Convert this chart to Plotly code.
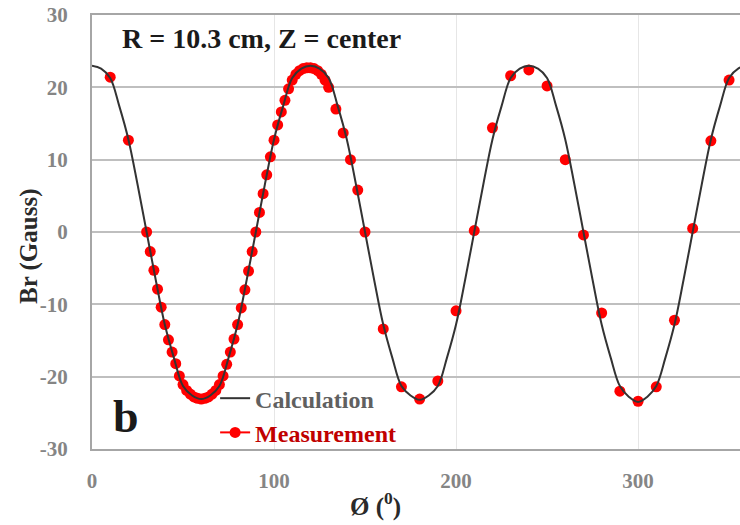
import plotly.graph_objects as go

# Calculation curve (read every 5 degrees)
calc_phi = list(range(0, 365, 5))
calc_br = [
    23.0, 22.6, 21.3, 17.4, 12.8, 6.6, 0.0, -6.6, -12.8, -17.4, -21.3, -22.6,
    -23.1, -22.6, -21.3, -17.4, -12.8, -6.6, 0.0, 6.6, 12.8, 17.4, 21.3, 22.6,
    23.0, 22.6, 21.3, 17.4, 12.8, 6.6, 0.0, -6.6, -12.8, -17.4, -21.3, -22.6,
    -23.2, -22.6, -21.3, -17.4, -12.8, -6.6, 0.0, 6.6, 12.8, 17.4, 21.3, 22.6,
    23.0, 22.6, 21.3, 17.4, 12.8, 6.6, 0.0, -6.6, -12.8, -17.4, -21.3, -22.8,
    -23.5, -22.8, -21.3, -17.4, -12.8, -6.6, 0.0, 6.6, 12.8, 17.4, 21.3, 22.6,
    23.0,
]

# Measurement points
meas_phi = [10, 20] + list(range(30, 132, 2)) + [134, 138, 142, 146, 150] + list(range(160, 360, 10))
meas_br = [
    21.4, 12.7,
    0.0, -2.7, -5.3, -7.9, -10.4, -12.8, -14.9, -16.6, -18.2, -19.9,
    -21.1, -21.9, -22.4, -22.8, -23.0, -23.1, -23.0, -22.8, -22.4, -21.9,
    -21.1, -19.9, -18.3, -16.6, -14.8, -12.8, -10.5, -8.0, -5.4, -2.7,
    0.0, 2.7, 5.3, 7.9, 10.4, 12.7, 14.8, 16.6, 18.2, 19.8,
    21.0, 21.8, 22.3, 22.6, 22.7, 22.7, 22.6, 22.3, 21.8, 21.0,
    20.0,
    17.0, 13.7, 10.0, 5.8, 0.0,
    -13.4, -21.4, -23.1, -20.6, -10.9, 0.2, 14.4, 21.6, 22.4, 20.2,
    10.0, -0.4, -11.2, -22.0, -23.4, -21.4, -12.2, 0.5, 12.6, 21.0,
]

y_ticks = [-30, -20, -10, 0, 10, 20, 30]
y_tick_labels = ["-30", "-20", "-10", "0", "10", "20", "30"]
x_ticks = [0, 100, 200, 300]

SERIF = "Liberation Serif"
RED = "#ff0000"
LEG_RED = "#c00000"
TICK_GRAY = "#858585"

fig = go.Figure()

fig.add_trace(go.Scatter(
    x=meas_phi, y=meas_br, mode="markers",
    marker=dict(color=RED, size=11),
    showlegend=False, hoverinfo="skip",
))
fig.add_trace(go.Scatter(
    x=calc_phi, y=calc_br, mode="lines",
    line=dict(color="#333333", width=2, shape="spline", smoothing=1.0),
    name="<span style='color:#606060'>Calculation</span>",
    legendrank=1,
))
fig.add_trace(go.Scatter(
    x=[None], y=[None], mode="lines+markers",
    line=dict(color=RED, width=2), marker=dict(color=RED, size=11),
    name="<span style='color:%s'>Measurement</span>" % LEG_RED,
    legendrank=2,
))

fig.update_layout(
    width=740, height=525,
    margin=dict(l=92, r=0, t=15, b=76),
    paper_bgcolor="white", plot_bgcolor="white",
    font=dict(family=SERIF),
    showlegend=True,
    legend=dict(
        x=0.19, y=0.168, xanchor="left", yanchor="top",
        font=dict(family=SERIF, size=24, color="#606060", weight="bold"),
        bgcolor="rgba(0,0,0,0)", borderwidth=0,
    ),
    xaxis=dict(
        range=[0, 356], tickvals=x_ticks,
        showgrid=True, gridcolor="#e6e6e6", gridwidth=1,
        zeroline=False,
        showline=True, mirror=True, linecolor="#a6a6a6", linewidth=2,
        tickfont=dict(family=SERIF, size=21, color=TICK_GRAY, weight="bold"),
        ticklabelstandoff=12,
    ),
    yaxis=dict(
        range=[-30, 30], tickvals=y_ticks, ticktext=y_tick_labels,
        showgrid=True, gridcolor="#bfbfbf", gridwidth=2,
        zeroline=False,
        showline=True, linecolor="#a6a6a6", linewidth=2,
        tickfont=dict(family=SERIF, size=21, color=TICK_GRAY, weight="bold"),
        ticklabelstandoff=18,
    ),
    annotations=[
        dict(text="R = 10.3 cm, Z = center", x=0.043, y=0.947, xref="paper", yref="paper",
             xanchor="left", yanchor="middle", showarrow=False,
             font=dict(family=SERIF, size=28, color="#1a1a1a", weight="bold")),
        dict(text="b", x=0.052, y=0.076, xref="paper", yref="paper",
             xanchor="center", yanchor="middle", showarrow=False,
             font=dict(family=SERIF, size=46, color="#1a1a1a", weight="bold")),
        dict(text="Br (Gauss)", x=-0.097, y=0.468, xref="paper", yref="paper",
             xanchor="center", yanchor="middle", showarrow=False, textangle=-90,
             font=dict(family=SERIF, size=25, color="#2a2a2a", weight="bold")),
        dict(text="Ø (<sup>0</sup>)", x=0.438, y=-0.129, xref="paper", yref="paper",
             xanchor="center", yanchor="middle", showarrow=False,
             font=dict(family=SERIF, size=25, color="#2a2a2a", weight="bold")),
    ],
)

fig.write_html("out.html")
